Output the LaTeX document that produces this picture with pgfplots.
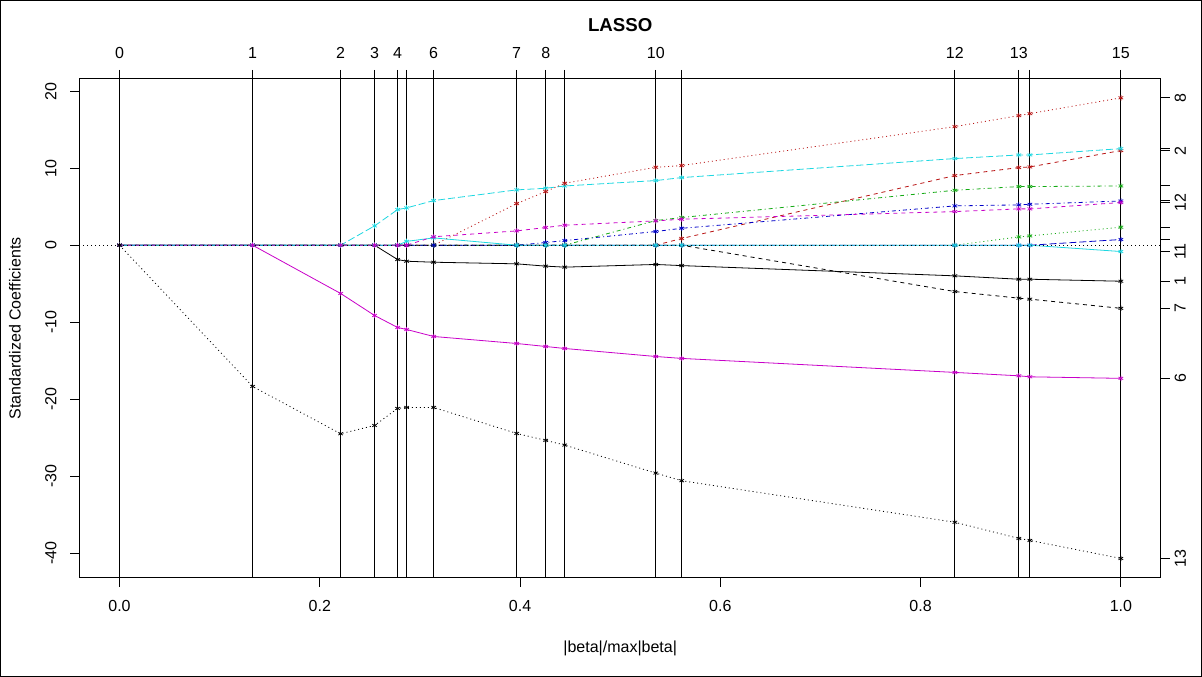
\documentclass[border=0pt]{standalone}
\usepackage{fontspec}
\setmainfont{Liberation Sans}
\usepackage{pgfplots}
\usepackage{pgfplotstable}
\pgfplotsset{compat=1.18}

% R's old default palette, a little darker as it appears in the picture
\definecolor{rred}{RGB}{185,20,20}
\definecolor{rgreen}{RGB}{20,170,20}
\definecolor{rblue}{RGB}{0,0,200}
\definecolor{rcyan}{RGB}{30,215,225}
\definecolor{rmagenta}{RGB}{200,0,200}

% R line types 1..5
\tikzset{
  lty1/.style={solid},
  lty2/.style={dash pattern=on 3pt off 3pt},
  lty3/.style={dash pattern=on 0.75pt off 2.25pt},
  lty4/.style={dash pattern=on 0.75pt off 2.25pt on 3pt off 2.25pt},
  lty5/.style={dash pattern=on 5.25pt off 2.25pt},
}

% standardized coefficients at each lars step
\pgfplotstableread{
s      v1     v2     v3    v4    v5     v6      v7     v8     v9    v10   v11    v12   v13
0      0      0      0     0     0      0       0      0      0     0     0      0     0
0.1329 0      0      0     0     0      0       0      0      0     0     0      0     -18.35
0.2208 0      0      0     0     0      -6.27   0      0      0     0     0      0     -24.50
0.2547 0      0      0     0     2.51   -9.13   0      0      0     0     0      0     -23.42
0.2777 -1.86  0      0     0     4.63   -10.69  0      0      0     0     0      0     -21.21
0.2867 -2.08  0      0     0     4.85   -10.95  0      0      0     0     0.50   0     -21.08
0.3137 -2.21  0      0     0     5.80   -11.86  0      0      0     0     0.95   1.10  -21.08
0.3966 -2.42  0      0     0     7.19   -12.77  0      5.41   0     0     0      1.86  -24.46
0.4256 -2.72  0      0     0.35  7.40   -13.16  0      6.97   0     0     0      2.30  -25.36
0.4446 -2.85  0      0     0.60  7.70   -13.42  0      8.05   0     0     0      2.60  -25.97
0.5355 -2.50  0      0     1.78  8.40   -14.46  0      10.13  3.20  0     0      3.16  -29.61
0.5614 -2.65  0.87   0     2.20  8.79   -14.71  0      10.35  3.60  0     0      3.38  -30.60
0.8342 -3.98  9.05   0     5.11  11.26  -16.53  -6.02  15.41  7.14  0     0      4.37  -36.00
0.8981 -4.42  10.09  1.08  5.24  11.73  -16.97  -6.88  16.84  7.62  0     0      4.72  -38.10
0.9091 -4.42  10.17  1.21  5.32  11.73  -17.10  -7.01  17.10  7.62  0     0      4.72  -38.36
1      -4.68  12.30  2.34  5.75  12.55  -17.30  -8.20  19.15  7.70  0.74  -0.82  5.55  -40.70
}\coefs

\begin{document}
\begin{tikzpicture}
\useasboundingbox (0,0) rectangle (901.5pt,507.75pt);
\draw[line width=0.75pt] (0.375pt,0.375pt) rectangle (901.125pt,507.375pt);

\begin{axis}[
  at={(59.6pt,74.5pt)}, anchor=south west,
  scale only axis, width=811.1pt, height=374pt,
  xmin=-0.04, xmax=1.04, ymin=-43.2, ymax=21.6,
  axis line style={line width=0.75pt},
  xtick={0,0.2,0.4,0.6,0.8,1},
  xticklabels={0.0,0.2,0.4,0.6,0.8,1.0},
  ytick={-40,-30,-20,-10,0,10,20},
  yticklabels={-40,-30,-20,-10,0,10,20},
  xtick pos=left, ytick pos=left,
  tick align=outside,
  major tick length=6.75pt,
  tick style={line width=0.75pt, black},
  ticklabel style={font=\fontsize{12}{14}\selectfont},
  xticklabel shift=7pt,
  yticklabel style={rotate=90, anchor=south},
  yticklabel shift=7pt,
  xlabel={|beta|/max|beta|},
  xlabel style={at={(axis description cs:0.5,-0.141)}, anchor=center, font=\fontsize{12}{14}\selectfont},
  ylabel={Standardized Coefficients},
  ylabel style={at={(axis description cs:-0.0597,0.5)}, anchor=center, font=\fontsize{12}{14}\selectfont},
  title={LASSO},
  title style={at={(axis description cs:0.5,1.0923)}, anchor=center, font=\fontsize{14}{17}\selectfont\bfseries},
  every axis plot/.append style={line width=0.6pt, mark=asterisk, mark size=2pt, mark options={solid, line width=0.55pt}},
]
\addplot[black,    lty1] table[x=s,y=v1]  {\coefs};
\addplot[rred,     lty2] table[x=s,y=v2]  {\coefs};
\addplot[rgreen,   lty3] table[x=s,y=v3]  {\coefs};
\addplot[rblue,    lty4] table[x=s,y=v4]  {\coefs};
\addplot[rcyan,    lty5] table[x=s,y=v5]  {\coefs};
\addplot[rmagenta, lty1] table[x=s,y=v6]  {\coefs};
\addplot[black,    lty2] table[x=s,y=v7]  {\coefs};
\addplot[rred,     lty3] table[x=s,y=v8]  {\coefs};
\addplot[rgreen,   lty4] table[x=s,y=v9]  {\coefs};
\addplot[rblue,    lty5] table[x=s,y=v10] {\coefs};
\addplot[rcyan,    lty1] table[x=s,y=v11] {\coefs};
\addplot[rmagenta, lty2] table[x=s,y=v12] {\coefs};
\addplot[black,    lty3] table[x=s,y=v13] {\coefs};
% zero line
\addplot[black, lty3, mark=none] coordinates {(-0.04,0) (1.04,0)};
% breaks
\pgfplotsinvokeforeach{0,0.1329,0.2208,0.2547,0.2777,0.2867,0.3137,0.3966,0.4256,0.4446,0.5355,0.5614,0.8342,0.8981,0.9091,1}{
  \addplot[black, solid, mark=none, line width=0.75pt] coordinates {(#1,-43.2) (#1,21.6)};
}
\end{axis}

\begin{axis}[
  at={(59.6pt,74.5pt)}, anchor=south west,
  scale only axis, width=811.1pt, height=374pt,
  xmin=-0.04, xmax=1.04, ymin=-43.2, ymax=21.6,
  axis x line*=top, axis y line*=right,
  axis line style={-, line width=0.75pt},
  xtick={0,0.1329,0.2208,0.2547,0.2777,0.2867,0.3137,0.3966,0.4256,0.4446,0.5355,0.5614,0.8342,0.8981,0.9091,1},
  xticklabels={0,1,2,3,4,{},6,7,8,{},10,{},12,13,{},15},
  ytick={-40.7,-17.3,-8.2,-4.68,-0.82,0.74,2.34,5.55,5.75,7.7,12.3,12.55,19.15},
  yticklabels={13,6,7,1,11,{},{},12,{},{},2,{},8},
  tick align=outside,
  major tick length=6.75pt,
  tick style={line width=0.75pt, black},
  ticklabel style={font=\fontsize{12}{14}\selectfont},
  xticklabel shift=5pt,
  yticklabel style={rotate=90, anchor=north},
]
\end{axis}
\end{tikzpicture}
\end{document}
